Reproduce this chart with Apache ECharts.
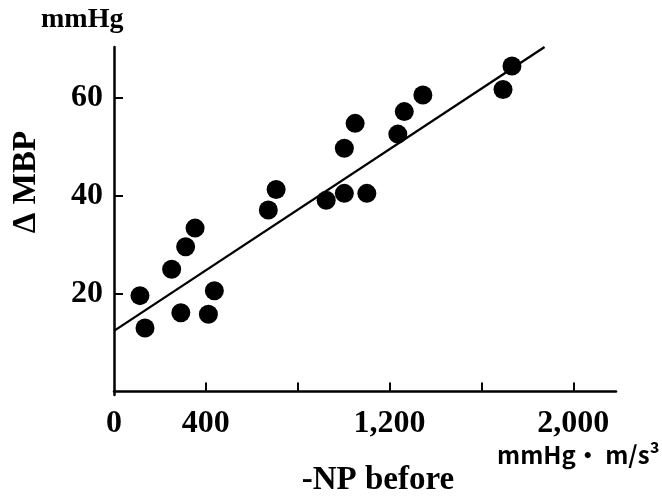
<!DOCTYPE html>
<html>
<head>
<meta charset="utf-8">
<script src="https://cdn.jsdelivr.net/npm/echarts@6/dist/echarts.min.js"></script>
<style>
  html, body { margin: 0; padding: 0; background: #fff; }
  #chart { width: 662px; height: 496px; }
</style>
</head>
<body>
<div id="chart"></div>
<script>
// 数据：-NP before 与 ΔMBP
var npBefore = [113, 135, 251, 291, 312, 353, 411, 437, 672, 706, 924, 1003, 1003, 1050, 1101, 1236, 1264, 1345, 1694, 1733]
var deltaMBP = [19.6, 13.0, 25.0, 16.1, 29.6, 33.4, 15.8, 20.6, 37.1, 41.3, 39.1, 40.5, 49.7, 54.8, 40.5, 52.6, 57.2, 60.6, 61.7, 66.5]
var fitX = [0, 1875]
var fitY = [12.4, 70.4]
var xTickValues = [400, 800, 1200, 1600, 2000]
var xLabelValues = [0, 400, 1200, 2000]
var yTickValues = [20, 40, 60]

var scatterData = []
for (var i = 0; i < npBefore.length; i++) {
  scatterData.push([npBefore[i], deltaMBP[i]])
}
var fitData = []
for (var j = 0; j < fitX.length; j++) {
  fitData.push([fitX[j], fitY[j]])
}

var serif = '"Liberation Serif", "Times New Roman", serif'
var myChart = echarts.init(document.getElementById('chart'))
var option = {
  animation: false,
  backgroundColor: '#fff',
  grid: { left: 114, right: 46, top: 47, bottom: 101, containLabel: false, outerBoundsMode: 'none' },
  xAxis: {
    type: 'value',
    min: 0,
    max: 2186,
    axisLine: { lineStyle: { color: '#000', width: 2.5 } },
    axisTick: { inside: true, length: 9, customValues: xTickValues, lineStyle: { color: '#000', width: 2 } },
    axisLabel: {
      customValues: xLabelValues,
      margin: 13,
      color: '#000',
      fontFamily: serif,
      fontWeight: 'bold',
      fontSize: 32,
      formatter: function (v) { return v.toLocaleString('en-US') }
    },
    splitLine: { show: false }
  },
  yAxis: {
    type: 'value',
    min: -0.7,
    max: 70.4,
    axisLine: { lineStyle: { color: '#000', width: 2.5 } },
    axisTick: { inside: true, length: 9, customValues: yTickValues, lineStyle: { color: '#000', width: 2 } },
    axisLabel: {
      customValues: yTickValues,
      margin: 11,
      color: '#000',
      fontFamily: serif,
      fontWeight: 'bold',
      fontSize: 32
    },
    splitLine: { show: false }
  },
  graphic: [
    { type: 'text', x: 41, y: 34, style: { text: 'mmHg', fill: '#000', fontFamily: serif, fontWeight: 'bold', fontSize: 28, textAlign: 'left', textVerticalAlign: 'bottom' } },
    { type: 'text', x: 26, y: 182, rotation: Math.PI / 2, style: { text: 'Δ MBP', fill: '#000', fontFamily: serif, fontWeight: 'bold', fontSize: 33, textAlign: 'center', textVerticalAlign: 'middle' } },
    { type: 'text', x: 378, y: 497, style: { text: '-NP before', fill: '#000', fontFamily: serif, fontWeight: 'bold', fontSize: 33, textAlign: 'center', textVerticalAlign: 'bottom' } },
    { type: 'text', x: 497, y: 455, style: { text: 'mmHg・ m/s³', fill: '#000', fontFamily: '"Noto Sans CJK JP", "Noto Sans", sans-serif', fontWeight: 'bold', fontSize: 24, textAlign: 'left', textVerticalAlign: 'middle' } }
  ],
  series: [{
    type: 'line',
    data: fitData,
    symbol: 'none',
    lineStyle: { color: '#000', width: 2.3 },
    z: 2
  }, {
    type: 'scatter',
    data: scatterData,
    symbolSize: 19,
    itemStyle: { color: '#000', opacity: 1 },
    z: 3
  }]
}
myChart.setOption(option)
</script>
</body>
</html>
